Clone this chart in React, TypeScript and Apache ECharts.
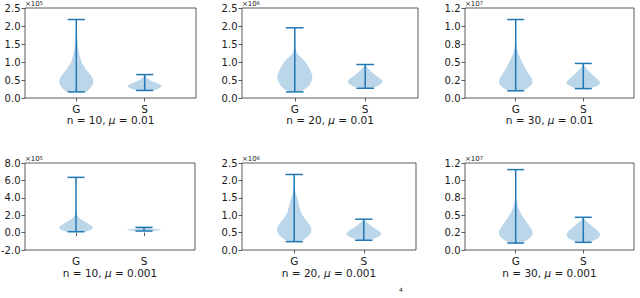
import React, { useEffect, useRef } from "react";
import * as echarts from "echarts";

// ---------- data ----------
const categories = ["G", "S"];
const positions = [1, 2];

const panelTitles = [
  "n = 10, {i|μ} = 0.01",
  "n = 20, {i|μ} = 0.01",
  "n = 30, {i|μ} = 0.01",
  "n = 10, {i|μ} = 0.001",
  "n = 20, {i|μ} = 0.001",
  "n = 30, {i|μ} = 0.001",
];
const exponents = [5, 6, 7, 5, 6, 7];
const yMins = [0, 0, 0, -2, 0, 0];
const yMaxs = [2.5, 2.5, 1.25, 8, 2.5, 1.25];
const ySteps = [0.5, 0.5, 0.25, 2, 0.5, 0.25];
const yTickLabels = [
  ["0.0", "0.5", "1.0", "1.5", "2.0", "2.5"],
  ["0.0", "0.5", "1.0", "1.5", "2.0", "2.5"],
  ["0.0", "0.2", "0.5", "0.8", "1.0", "1.2"],
  ["-2.0", "0.0", "2.0", "4.0", "6.0", "8.0"],
  ["0.0", "0.5", "1.0", "1.5", "2.0", "2.5"],
  ["0.0", "0.2", "0.5", "0.8", "1.0", "1.2"],
];

// violin profiles: values (in units of 10^exp) and relative half widths
const p1GVals = [0.17, 0.25, 0.35, 0.45, 0.55, 0.65, 0.8, 1.0, 1.2, 1.4, 1.6, 1.8, 2.0, 2.18];
const p1GW = [0.55, 0.78, 0.94, 1.0, 0.96, 0.82, 0.55, 0.3, 0.18, 0.1, 0.06, 0.03, 0.01, 0.0];
const p1SVals = [0.21, 0.25, 0.3, 0.34, 0.4, 0.45, 0.5, 0.55, 0.6, 0.65];
const p1SW = [0.5, 0.75, 0.95, 1.0, 0.8, 0.5, 0.3, 0.15, 0.06, 0.0];

const p2GVals = [0.17, 0.25, 0.35, 0.45, 0.55, 0.65, 0.75, 0.85, 0.95, 1.05, 1.15, 1.25, 1.4, 1.6, 1.8, 1.95];
const p2GW = [0.3, 0.6, 0.82, 0.93, 1.0, 0.98, 0.9, 0.8, 0.68, 0.52, 0.3, 0.1, 0.04, 0.015, 0.005, 0.0];
const p2SVals = [0.27, 0.32, 0.38, 0.44, 0.5, 0.56, 0.62, 0.7, 0.78, 0.86, 0.93];
const p2SW = [0.35, 0.65, 0.88, 1.0, 0.95, 0.8, 0.62, 0.42, 0.25, 0.1, 0.0];

const p3GVals = [0.1, 0.14, 0.18, 0.22, 0.26, 0.3, 0.36, 0.42, 0.48, 0.55, 0.62, 0.7, 0.8, 0.9, 1.0, 1.09];
const p3GW = [0.45, 0.72, 0.92, 1.0, 0.97, 0.88, 0.7, 0.55, 0.42, 0.28, 0.15, 0.06, 0.02, 0.01, 0.005, 0.0];
const p3SVals = [0.13, 0.16, 0.19, 0.22, 0.26, 0.3, 0.35, 0.4, 0.44, 0.48];
const p3SW = [0.4, 0.75, 0.97, 1.0, 0.85, 0.65, 0.42, 0.22, 0.08, 0.0];

const p4GVals = [0.1, 0.3, 0.5, 0.7, 0.9, 1.1, 1.3, 1.5, 1.7, 2.0, 2.5, 3.5, 5.0, 6.35];
const p4GW = [0.55, 0.85, 1.0, 0.97, 0.82, 0.65, 0.48, 0.32, 0.18, 0.06, 0.02, 0.005, 0.002, 0.0];
const p4SVals = [0.18, 0.24, 0.3, 0.36, 0.42, 0.5, 0.6];
const p4SW = [0.5, 0.8, 0.97, 1.0, 0.75, 0.35, 0.0];

const p5GVals = [0.24, 0.3, 0.4, 0.5, 0.6, 0.7, 0.8, 0.9, 1.0, 1.1, 1.2, 1.35, 1.5, 1.7, 1.9, 2.17];
const p5GW = [0.3, 0.55, 0.82, 0.96, 1.0, 0.92, 0.78, 0.62, 0.48, 0.38, 0.33, 0.25, 0.17, 0.05, 0.01, 0.0];
const p5SVals = [0.28, 0.33, 0.38, 0.43, 0.48, 0.54, 0.6, 0.66, 0.72, 0.78, 0.885];
const p5SW = [0.3, 0.6, 0.85, 0.98, 1.0, 0.88, 0.7, 0.5, 0.35, 0.2, 0.0];

const p6GVals = [0.1, 0.14, 0.18, 0.22, 0.26, 0.3, 0.35, 0.4, 0.45, 0.5, 0.55, 0.6, 0.68, 0.76, 0.9, 1.155];
const p6GW = [0.35, 0.65, 0.87, 0.98, 1.0, 0.93, 0.8, 0.65, 0.5, 0.37, 0.26, 0.16, 0.07, 0.02, 0.005, 0.0];
const p6SVals = [0.11, 0.14, 0.17, 0.2, 0.23, 0.27, 0.31, 0.35, 0.39, 0.43, 0.47];
const p6SW = [0.35, 0.65, 0.88, 0.98, 1.0, 0.88, 0.7, 0.5, 0.3, 0.12, 0.0];

const profileVals = [
  [p1GVals, p1SVals],
  [p2GVals, p2SVals],
  [p3GVals, p3SVals],
  [p4GVals, p4SVals],
  [p5GVals, p5SVals],
  [p6GVals, p6SVals],
];
const profileWidths = [
  [p1GW, p1SW],
  [p2GW, p2SW],
  [p3GW, p3SW],
  [p4GW, p4SW],
  [p5GW, p5SW],
  [p6GW, p6SW],
];

// ---------- layout / style ----------
const grids = [
  { left: 25, top: 8, width: 171, height: 90 },
  { left: 242, top: 8, width: 176, height: 90 },
  { left: 465, top: 8, width: 169, height: 90 },
  { left: 25, top: 163, width: 170, height: 87 },
  { left: 242, top: 163, width: 174, height: 87 },
  { left: 465, top: 163, width: 169, height: 87 },
];
const FONT = "DejaVu Sans";
const TEXT = "#1a1a1a";
const BLUE = "#1f77b4";
const FILL = "rgba(31,119,180,0.3)";
const HALF = 0.25;
const CAP = 0.125;

function buildOption() {
  const grid: any[] = [];
  const xAxis: any[] = [];
  const yAxis: any[] = [];
  const series: any[] = [];
  for (let p = 0; p < 6; p++) {
    const bottomRow = p >= 3;
    grid.push({
      ...grids[p],
      show: true,
      borderColor: "#333",
      borderWidth: 0.8,
      backgroundColor: "transparent",
      outerBoundsMode: "none",
    });
    xAxis.push({
      type: "value",
      gridIndex: p,
      min: 0.25,
      max: 2.75,
      splitLine: { show: false },
      axisLine: { show: false },
      axisTick: {
        show: true,
        customValues: positions,
        inside: false,
        length: 3.5,
        lineStyle: { color: "#333", width: 0.8 },
      },
      axisLabel: {
        customValues: positions,
        margin: 5,
        fontFamily: FONT,
        fontSize: 10.5,
        color: TEXT,
        formatter: (v: number) => categories[Math.round(v) - 1] ?? "",
      },
      name: panelTitles[p],
      nameLocation: "middle",
      nameGap: bottomRow ? 17 : 15,
      nameTextStyle: {
        fontFamily: FONT,
        fontSize: 10.5,
        color: TEXT,
        rich: { i: { fontFamily: FONT, fontStyle: "italic", fontSize: 10.5, color: TEXT } },
      },
    });
    const mn = yMins[p];
    const st = ySteps[p];
    const labels = yTickLabels[p];
    yAxis.push({
      type: "value",
      gridIndex: p,
      min: mn,
      max: yMaxs[p],
      interval: st,
      splitLine: { show: false },
      axisLine: { show: false },
      axisTick: { show: true, length: 3.5, lineStyle: { color: "#333", width: 0.8 } },
      axisLabel: {
        margin: 4.5,
        fontFamily: FONT,
        fontSize: 10,
        color: TEXT,
        showMinLabel: true,
        showMaxLabel: true,
        formatter: (v: number) => labels[Math.round((v - mn) / st)] ?? "",
      },
      name: "{a|×10}{b|" + exponents[p] + "}",
      nameLocation: "end",
      nameGap: 0.5,
      nameTextStyle: {
        align: "left",
        verticalAlign: "bottom",
        lineHeight: 7.5,
        rich: {
          a: { fontFamily: FONT, fontSize: 7, lineHeight: 7.5, color: TEXT, verticalAlign: "bottom" },
          b: { fontFamily: FONT, fontSize: 5, lineHeight: 5, color: TEXT, verticalAlign: "top" },
        },
      },
    });
    const data = positions.map((pos, k) => {
      const vals = profileVals[p][k];
      return [pos, vals[0], vals[vals.length - 1]];
    });
    series.push({
      type: "custom",
      xAxisIndex: p,
      yAxisIndex: p,
      data,
      encode: { x: 0, y: [1, 2] },
      renderItem: (params: any, api: any) => {
        const k = params.dataIndex;
        const pos = api.value(0);
        const mnV = api.value(1);
        const mxV = api.value(2);
        const vals = profileVals[p][k];
        const ws = profileWidths[p][k];
        const leftPts = vals.map((v, i) => api.coord([pos - ws[i] * HALF, v]));
        const rightPts = vals.map((v, i) => api.coord([pos + ws[i] * HALF, v])).reverse();
        const top = api.coord([pos, mxV]);
        const bot = api.coord([pos, mnV]);
        const tl = api.coord([pos - CAP, mxV]);
        const tr = api.coord([pos + CAP, mxV]);
        const bl = api.coord([pos - CAP, mnV]);
        const br = api.coord([pos + CAP, mnV]);
        const lineStyle = { stroke: BLUE, lineWidth: 1.5 };
        return {
          type: "group",
          children: [
            { type: "polygon", shape: { points: leftPts.concat(rightPts) }, style: { fill: FILL, stroke: "none" } },
            { type: "line", shape: { x1: top[0], y1: top[1], x2: bot[0], y2: bot[1] }, style: lineStyle },
            { type: "line", shape: { x1: tl[0], y1: tl[1], x2: tr[0], y2: tr[1] }, style: lineStyle },
            { type: "line", shape: { x1: bl[0], y1: bl[1], x2: br[0], y2: br[1] }, style: lineStyle },
          ],
        };
      },
    });
  }
  return {
    animation: false,
    backgroundColor: "#ffffff",
    grid,
    xAxis,
    yAxis,
    series,
    graphic: [
      {
        type: "text",
        left: 399,
        top: 286,
        style: { text: "4", fontFamily: FONT, fontSize: 6, fill: TEXT },
      },
    ],
  };
}

export default function App() {
  const ref = useRef<HTMLDivElement>(null);
  useEffect(() => {
    if (!ref.current) return;
    const chart = echarts.init(ref.current, undefined, { renderer: "svg" });
    chart.setOption(buildOption() as any);
    return () => chart.dispose();
  }, []);
  return (
    <div
      ref={ref}
      style={{ position: "fixed", left: 0, top: 0, width: 640, height: 298, background: "#fff" }}
    />
  );
}
